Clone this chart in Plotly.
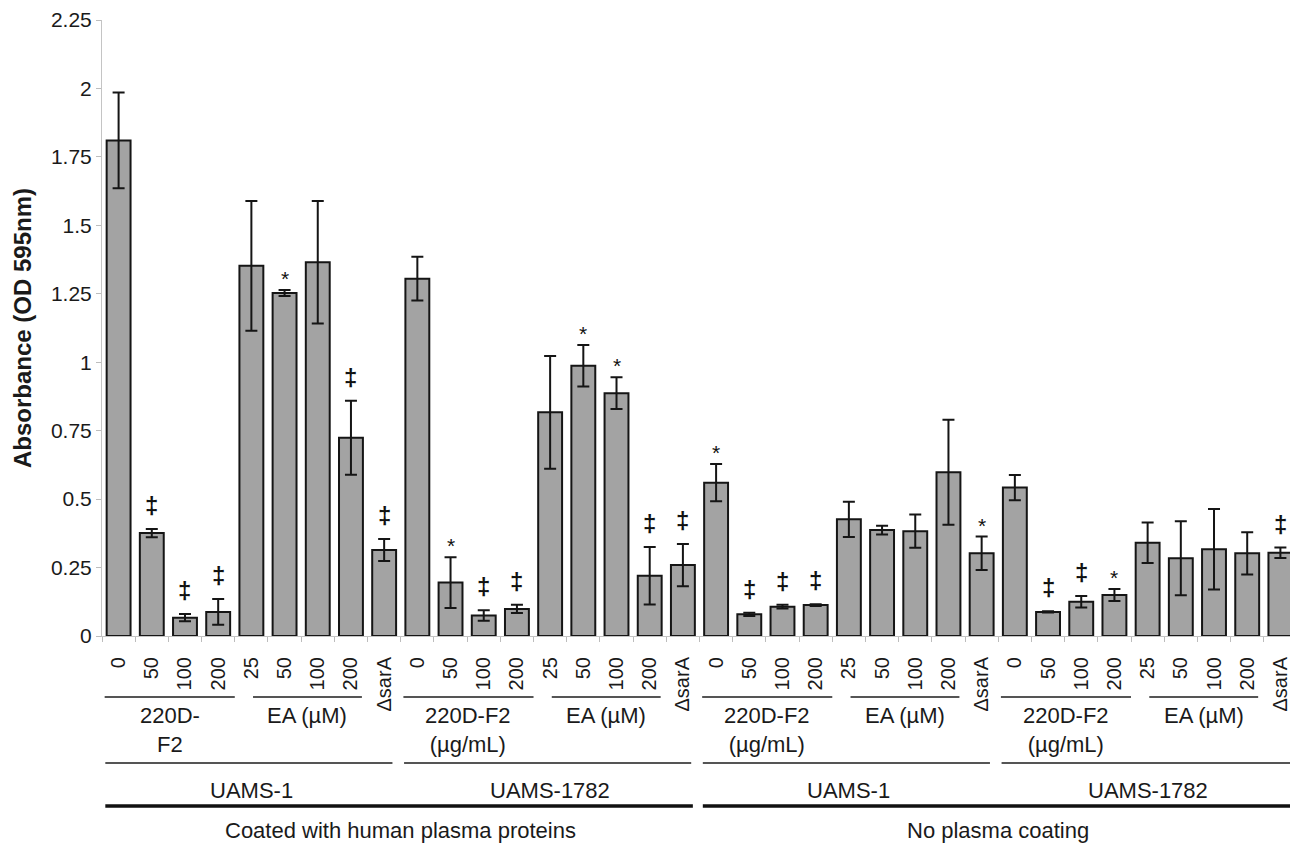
import plotly.graph_objects as go

# ---------------- data ----------------
tick_labels = ["0", "50", "100", "200", "25", "50", "100", "200", "ΔsarA"] * 4

means = [1.810, 0.376, 0.067, 0.088, 1.352, 1.253, 1.365, 0.724, 0.314,
         1.305, 0.195, 0.075, 0.099, 0.817, 0.987, 0.887, 0.220, 0.259,
         0.560, 0.079, 0.107, 0.113, 0.426, 0.387, 0.383, 0.598, 0.302,
         0.542, 0.088, 0.125, 0.150, 0.341, 0.284, 0.317, 0.302, 0.304]

errors = [0.175, 0.015, 0.013, 0.047, 0.237, 0.011, 0.224, 0.135, 0.040,
          0.080, 0.093, 0.019, 0.015, 0.206, 0.076, 0.058, 0.105, 0.077,
          0.068, 0.006, 0.007, 0.003, 0.064, 0.016, 0.061, 0.192, 0.061,
          0.046, 0.002, 0.021, 0.022, 0.074, 0.135, 0.147, 0.077, 0.019]

significance = ["", "‡", "‡", "‡", "", "*", "", "‡", "‡",
                "", "*", "‡", "‡", "", "*", "*", "‡", "‡",
                "*", "‡", "‡", "‡", "", "", "", "", "*",
                "", "‡", "‡", "*", "", "", "", "", "‡"]

treatment_labels = ["220D-<br>F2", "EA (µM)", "220D-F2<br>(µg/mL)", "EA (µM)",
                    "220D-F2<br>(µg/mL)", "EA (µM)", "220D-F2<br>(µg/mL)", "EA (µM)"]
treatment_kind = ["220D", "EA", "220D", "EA", "220D", "EA", "220D", "EA"]
treatment_ranges = [(0, 3), (4, 7), (9, 12), (13, 16), (18, 21), (22, 25), (27, 30), (31, 34)]

strain_labels = ["UAMS-1", "UAMS-1782", "UAMS-1", "UAMS-1782"]
strain_ranges = [(0, 8), (9, 17), (18, 26), (27, 35)]

coating_labels = ["Coated with human plasma proteins", "No plasma coating"]
coating_ranges = [(0, 17), (18, 35)]

y_tickvals = [0, 0.25, 0.5, 0.75, 1, 1.25, 1.5, 1.75, 2, 2.25]
y_ticktext = ["0", "0.25", "0.5", "0.75", "1", "1.25", "1.5", "1.75", "2", "2.25"]

# ---------------- figure ----------------
FONT = "Arial, 'Liberation Sans', Helvetica, sans-serif"
TXT = "#1a1a1a"
n = len(means)
xs = list(range(n))
# page body has an 8px margin: shrink the figure so it fits the window
W, H = 1290, 835
M_L, M_R, M_T, M_B = 94, 1, 12, 207
PLOT_H = H - M_T - M_B


def below(px):
    """paper y for a distance in px below the x axis"""
    return -px / PLOT_H


fig = go.Figure()
fig.add_trace(go.Bar(
    x=xs, y=means, width=0.72,
    marker=dict(color="#a3a3a3", line=dict(color="#151515", width=2)),
    error_y=dict(type="data", array=errors, visible=True,
                 color="#151515", thickness=2, width=6),
    showlegend=False, hoverinfo="skip",
))
# dummy trace for boundary tick axis
fig.add_trace(go.Scatter(x=[-0.5, n - 0.5], y=[0, 0], xaxis="x2", mode="lines",
                         line=dict(color="rgba(0,0,0,0)"), showlegend=False,
                         hoverinfo="skip"))

annotations = []
for i, s in enumerate(significance):
    if not s:
        continue
    annotations.append(dict(
        x=i, y=means[i] + errors[i], xref="x", yref="y",
        text=("<b>%s</b>" % s) if s == "‡" else s,
        showarrow=False, yanchor="bottom",
        yshift=8 if s == "‡" else -2,
        font=dict(family=FONT, size=24 if s == "‡" else 21, color="#111111"),
    ))

shapes = []
# treatment level
for lab, kind, (a, b) in zip(treatment_labels, treatment_kind, treatment_ranges):
    if kind == "220D":
        x0, x1 = max(a - 0.42, -0.5), b + 0.5
    else:
        x0, x1 = a + 0.05, b + 0.33
    shapes.append(dict(type="line", xref="x", yref="paper", x0=x0, x1=x1,
                       y0=below(61), y1=below(61),
                       line=dict(color="#1c1c1c", width=1.5)))
    annotations.append(dict(x=(x0 + x1) / 2, y=below(65), xref="x", yref="paper",
                            text=lab, showarrow=False, yanchor="top",
                            font=dict(family=FONT, size=22, color=TXT)))
# strain level
for lab, (a, b) in zip(strain_labels, strain_ranges):
    x0 = max(a - 0.4, -0.5)
    x1 = n - 0.5 if b == n - 1 else b + 0.25
    shapes.append(dict(type="line", xref="x", yref="paper", x0=x0, x1=x1,
                       y0=below(127), y1=below(127),
                       line=dict(color="#1c1c1c", width=1.5)))
    annotations.append(dict(x=(a + b) / 2, y=below(154), xref="x", yref="paper",
                            text=lab, showarrow=False, yanchor="middle",
                            font=dict(family=FONT, size=22, color=TXT)))
# coating level
for lab, (a, b) in zip(coating_labels, coating_ranges):
    x0 = max(a - 0.4, -0.5)
    x1 = b + 0.3
    shapes.append(dict(type="line", xref="x", yref="paper", x0=x0, x1=x1,
                       y0=below(170), y1=below(170),
                       line=dict(color="#111111", width=3.5)))
    annotations.append(dict(x=(a + b) / 2, y=below(194), xref="x", yref="paper",
                            text=lab, showarrow=False, yanchor="middle",
                            font=dict(family=FONT, size=22, color=TXT)))

fig.update_layout(
    width=W, height=H,
    margin=dict(l=M_L, r=M_R, t=M_T, b=M_B),
    paper_bgcolor="white", plot_bgcolor="white",
    font=dict(family=FONT, color=TXT),
    showlegend=False,
    bargap=0.28,
    xaxis=dict(range=[-0.5, n - 0.5], tickmode="array", tickvals=xs,
               ticktext=tick_labels, tickangle=-90, ticks="",
               ticklabelstandoff=12,
               tickfont=dict(family=FONT, size=20, color=TXT),
               showline=True, linecolor="#c4c4c4", linewidth=1,
               showgrid=False, zeroline=False),
    xaxis2=dict(overlaying="x", anchor="y", side="bottom",
                range=[-0.5, n - 0.5], tickmode="array",
                tickvals=[i - 0.5 for i in range(n + 1)],
                ticks="outside", ticklen=5, tickcolor="#bdbdbd", tickwidth=1,
                showticklabels=False, showline=False, showgrid=False,
                zeroline=False),
    yaxis=dict(range=[0, 2.25], tickmode="array", tickvals=y_tickvals,
               ticktext=y_ticktext, ticks="outside", ticklen=5,
               tickcolor="#bdbdbd", showline=True, linecolor="#c4c4c4",
               linewidth=1, showgrid=False, zeroline=False,
               tickfont=dict(family=FONT, size=21, color=TXT),
               title=dict(text="<b>Absorbance (OD 595nm)</b>", standoff=12,
                          font=dict(family=FONT, size=24, color=TXT))),
    shapes=shapes,
    annotations=annotations,
)

fig.write_html("out.html")
